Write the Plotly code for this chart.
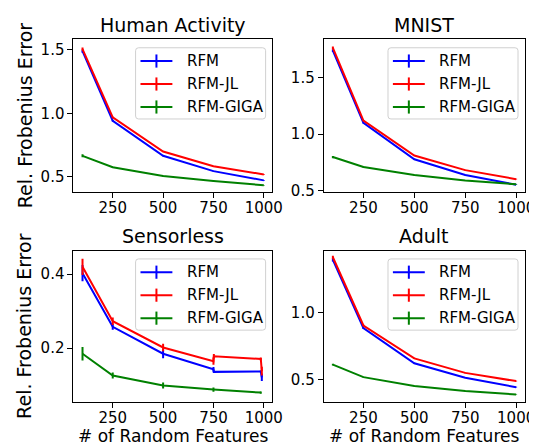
import plotly.graph_objects as go

W, H = 537, 447

# ---------------- data ----------------
x_std = [100, 250, 500, 750, 1000]

ha_rfm = [1.49, 0.941, 0.664, 0.543, 0.470]
ha_rfm_err = [0.012, 0.006, 0.004, 0.003, 0.003]
ha_jl = [1.507, 0.967, 0.698, 0.581, 0.517]
ha_jl_err = [0.012, 0.006, 0.004, 0.003, 0.003]
ha_giga = [0.664, 0.574, 0.504, 0.465, 0.432]
ha_giga_err = [0.012, 0.004, 0.003, 0.002, 0.002]

mn_rfm = [1.740, 1.100, 0.776, 0.637, 0.550]
mn_rfm_err = [0.012, 0.006, 0.004, 0.003, 0.003]
mn_jl = [1.765, 1.120, 0.810, 0.680, 0.600]
mn_jl_err = [0.012, 0.006, 0.004, 0.003, 0.003]
mn_giga = [0.796, 0.708, 0.636, 0.587, 0.555]
mn_giga_err = [0.010, 0.004, 0.003, 0.002, 0.002]

se_x_rfm = [100, 250, 500, 750, 752, 985, 990]
se_rfm = [0.403, 0.258, 0.185, 0.143, 0.136, 0.137, 0.121]
se_rfm_err = [0.022, 0.008, 0.012, 0.006, 0.003, 0.003, 0.010]
se_x_jl = [100, 250, 500, 750, 752, 985, 990]
se_jl = [0.420, 0.273, 0.202, 0.165, 0.178, 0.171, 0.138]
se_jl_err = [0.022, 0.010, 0.010, 0.010, 0.006, 0.004, 0.012]
se_x_giga = [100, 250, 500, 750, 985]
se_giga = [0.185, 0.126, 0.099, 0.088, 0.080]
se_giga_err = [0.018, 0.008, 0.008, 0.006, 0.003]

ad_rfm = [1.400, 0.886, 0.621, 0.513, 0.441]
ad_rfm_err = [0.012, 0.006, 0.004, 0.003, 0.003]
ad_jl = [1.420, 0.906, 0.658, 0.549, 0.487]
ad_jl_err = [0.012, 0.006, 0.004, 0.003, 0.003]
ad_giga = [0.611, 0.517, 0.450, 0.413, 0.386]
ad_giga_err = [0.006, 0.003, 0.002, 0.002, 0.002]

titles = ["Human Activity", "MNIST", "Sensorless", "Adult"]
series_names = ["RFM", "RFM-JL", "RFM-GIGA"]
colors = ["#0000ff", "#ff0000", "#008000"]
x_ticks = [250, 500, 750, 1000]
y_ticks = [[0.5, 1.0, 1.5], [0.5, 1.0, 1.5], [0.2, 0.4], [0.5, 1.0]]
y_ticklabels = [["0.5", "1.0", "1.5"], ["0.5", "1.0", "1.5"], ["0.2", "0.4"], ["0.5", "1.0"]]
y_ranges = [[0.381, 1.583], [0.489, 1.84], [0.055, 0.464], [0.331, 1.47]]
x_range = [55, 1043]
ylabel = "Rel. Frobenius Error"
xlabel = "# of Random Features"

panels = [
    [(x_std, ha_rfm, ha_rfm_err), (x_std, ha_jl, ha_jl_err), (x_std, ha_giga, ha_giga_err)],
    [(x_std, mn_rfm, mn_rfm_err), (x_std, mn_jl, mn_jl_err), (x_std, mn_giga, mn_giga_err)],
    [(se_x_rfm, se_rfm, se_rfm_err), (se_x_jl, se_jl, se_jl_err), (se_x_giga, se_giga, se_giga_err)],
    [(x_std, ad_rfm, ad_rfm_err), (x_std, ad_jl, ad_jl_err), (x_std, ad_giga, ad_giga_err)],
]

# ---------------- layout geometry (pixels) ----------------
def px(x):
    return x / W

def py(y):
    return 1 - y / H

cols = [(66.7, 269.5), (321.7, 526.7)]
rows = [(32.0, 187.0), (247.0, 401.0)]

FONT = "DejaVu Sans"
fig = go.Figure()
layout = dict(
    width=W, height=H,
    margin=dict(l=0, r=0, t=0, b=0),
    paper_bgcolor="white", plot_bgcolor="white",
    showlegend=False,
    font=dict(family=FONT, size=15, color="black"),
)
annotations = []
shapes = []

for i in range(4):
    r, c = divmod(i, 2)
    ax_id = "" if i == 0 else str(i + 1)
    x0, x1 = cols[c]
    yt, yb = rows[r]
    for k, (xs, ys, es) in enumerate(panels[i]):
        fig.add_trace(go.Scatter(
            x=xs, y=ys, mode="lines",
            line=dict(color=colors[k], width=2),
            error_y=dict(type="data", array=es, visible=True, width=0,
                         thickness=2, color=colors[k]),
            name=series_names[k],
            xaxis="x" + ax_id, yaxis="y" + ax_id,
        ))
    axis_common = dict(
        showline=True, mirror=True, linecolor="black", linewidth=1,
        ticks="outside", ticklen=5, tickwidth=1, tickcolor="black",
        showgrid=False, zeroline=False,
        tickfont=dict(family=FONT, size=15, color="black"),
    )
    layout["xaxis" + ax_id] = dict(
        axis_common, domain=[px(x0), px(x1)], range=x_range,
        tickvals=x_ticks, ticktext=[str(v) for v in x_ticks],
        anchor="y" + ax_id, ticklabelstandoff=-3,
    )
    layout["yaxis" + ax_id] = dict(
        axis_common, domain=[py(yb), py(yt)], range=y_ranges[i],
        tickvals=y_ticks[i], ticktext=y_ticklabels[i],
        anchor="x" + ax_id,
    )
    # title
    annotations.append(dict(
        text=titles[i], x=px((x0 + x1) / 2), y=py(yt - 15),
        xref="paper", yref="paper", xanchor="center", yanchor="middle",
        showarrow=False, font=dict(family=FONT, size=19, color="black"),
    ))
    if c == 0:
        annotations.append(dict(
            text=ylabel, x=px(17), y=py((yt + yb) / 2), textangle=-90,
            xref="paper", yref="paper", xanchor="center", yanchor="middle",
            showarrow=False, font=dict(family=FONT, size=19, color="black"),
        ))
    if r == 1:
        annotations.append(dict(
            text=xlabel, x=px((x0 + x1) / 2), y=py(435.5),
            xref="paper", yref="paper", xanchor="center", yanchor="middle",
            showarrow=False, font=dict(family=FONT, size=17, color="black"),
        ))
    # legend box
    bx1 = x1 - 7.0
    bx0 = bx1 - 132.5
    by0 = yt + 8.5
    by1 = by0 + 72.5
    rad = 3
    path = (f"M {px(bx0 + rad)},{py(by0)} L {px(bx1 - rad)},{py(by0)} "
            f"Q {px(bx1)},{py(by0)} {px(bx1)},{py(by0 + rad)} "
            f"L {px(bx1)},{py(by1 - rad)} Q {px(bx1)},{py(by1)} {px(bx1 - rad)},{py(by1)} "
            f"L {px(bx0 + rad)},{py(by1)} Q {px(bx0)},{py(by1)} {px(bx0)},{py(by1 - rad)} "
            f"L {px(bx0)},{py(by0 + rad)} Q {px(bx0)},{py(by0)} {px(bx0 + rad)},{py(by0)} Z")
    shapes.append(dict(type="path", path=path, xref="paper", yref="paper",
                       line=dict(color="#d0d0d0", width=1),
                       fillcolor="rgba(255,255,255,0.8)", layer="above"))
    for k in range(3):
        ey = by0 + 13.5 + k * 23.4
        lx0 = bx0 + 5
        lx1 = bx0 + 37.5
        shapes.append(dict(type="line", xref="paper", yref="paper",
                           x0=px(lx0), x1=px(lx1), y0=py(ey), y1=py(ey),
                           line=dict(color=colors[k], width=2), layer="above"))
        mx = (lx0 + lx1) / 2
        shapes.append(dict(type="line", xref="paper", yref="paper",
                           x0=px(mx), x1=px(mx), y0=py(ey - 6.7), y1=py(ey + 6.7),
                           line=dict(color=colors[k], width=2), layer="above"))
        annotations.append(dict(
            text=series_names[k], x=px(bx0 + 50), y=py(ey),
            xref="paper", yref="paper", xanchor="left", yanchor="middle",
            showarrow=False, font=dict(family=FONT, size=15, color="black"),
        ))

layout["annotations"] = annotations
layout["shapes"] = shapes
fig.update_layout(**layout)
fig.write_html("out.html")
